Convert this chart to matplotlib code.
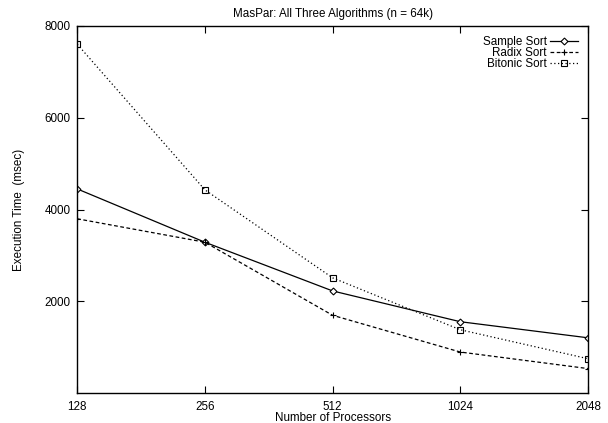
import numpy as np
import matplotlib
matplotlib.use("Agg")
import matplotlib.pyplot as plt

plt.rcParams['font.family'] = ['Liberation Sans', 'DejaVu Sans']
plt.rcParams['font.size'] = 8.4

procs = [128, 256, 512, 1024, 2048]
sample_sort = [4450, 3290, 2230, 1560, 1210]
radix_sort = [3800, 3290, 1700, 900, 540]
bitonic_sort = [7600, 4430, 2515, 1385, 755]

fig = plt.figure(figsize=(6.08, 4.23), dpi=100)
ax = fig.add_axes([0.127, 0.070, 0.840, 0.869])

ax.plot(procs, sample_sort, color='k', lw=0.9, ls='-', marker='D',
        ms=3.5, mfc='white', mec='k', mew=0.8, label='Sample Sort')
ax.plot(procs, radix_sort, color='k', lw=0.9, ls=(0, (3, 2)), marker='+',
        ms=5, mew=0.8, label='Radix Sort')
ax.plot(procs, bitonic_sort, color='k', lw=0.9, ls=(0, (1, 2)), marker='s',
        ms=5, mfc='none', mec='k', mew=0.8, label='Bitonic Sort')

ax.set_xscale('log', base=2)
ax.set_xlim(128, 2048)
ax.set_ylim(0, 8000)
ax.set_xticks(procs)
ax.set_xticklabels([str(p) for p in procs])
ax.xaxis.set_minor_locator(matplotlib.ticker.NullLocator())
ax.set_yticks([2000, 4000, 6000, 8000])

ax.tick_params(direction='in', top=True, right=True, length=5, width=0.8)
ax.tick_params(axis='x', pad=5.5)
ax.tick_params(axis='y', pad=5)
for s in ax.spines.values():
    s.set_linewidth(1.0)

ax.set_title('MasPar: All Three Algorithms (n = 64k)', fontsize=8.4, pad=6)
ax.set_xlabel('Number of Processors', labelpad=-1)
ax.set_ylabel('Execution Time  (msec)', labelpad=14)

ax.legend(loc='upper right', frameon=False, markerfirst=False, numpoints=1,
          handlelength=2.35, handletextpad=0.3, labelspacing=-0.08,
          borderaxespad=0.47, fontsize=8.4)

fig.savefig('out.png', dpi=100)
